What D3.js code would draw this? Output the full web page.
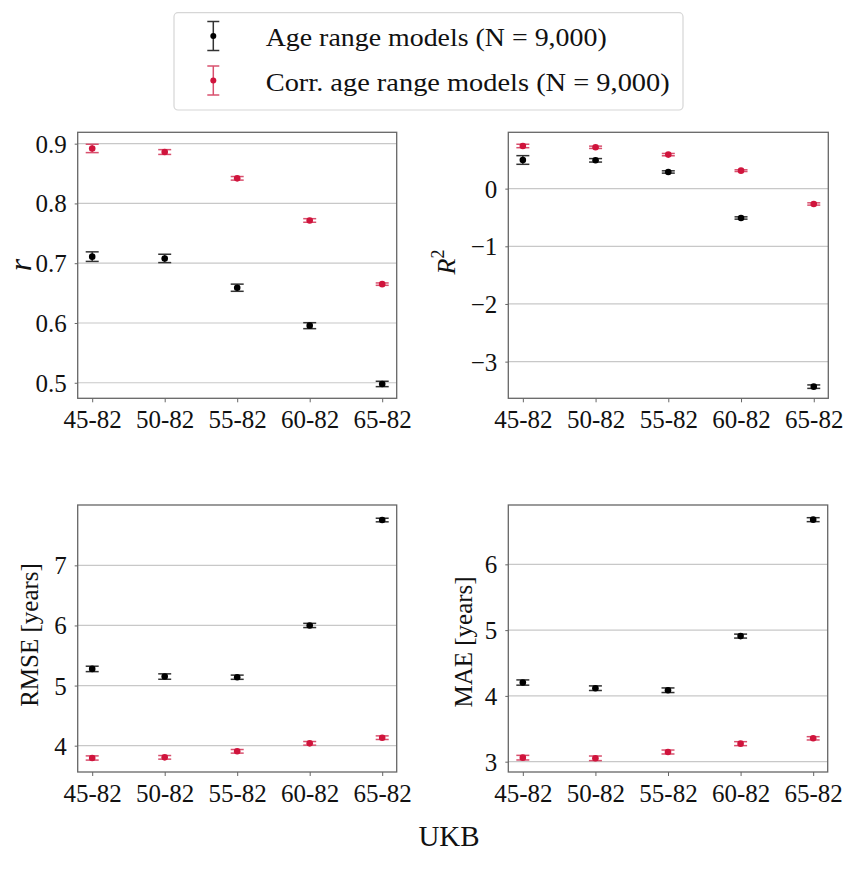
<!DOCTYPE html>
<html><head><meta charset="utf-8">
<script src="https://cdn.jsdelivr.net/npm/d3@7"></script>
<style>
html,body{margin:0;padding:0;background:#fff;}
svg text{font-family:"Liberation Serif","Times New Roman",serif;fill:#111;}
</style></head>
<body>
<svg id="chart" width="843" height="871"></svg>
<script>
// ---- data ----
const categories = ["45-82","50-82","55-82","60-82","65-82"];
const seriesNames = ["Age range models (N = 9,000)","Corr. age range models (N = 9,000)"];

const rAge = [0.711,0.708,0.659,0.5955,0.498];
const rAgeErr = [0.008,0.007,0.006,0.005,0.0045];
const rCorr = [0.892,0.886,0.842,0.7715,0.665];
const rCorrErr = [0.007,0.004,0.003,0.003,0.002];

const r2Age = [0.497,0.491,0.289,-0.509,-3.434];
const r2AgeErr = [0.075,0.03,0.02,0.02,0.03];
const r2Corr = [0.74,0.717,0.59,0.312,-0.266];
const r2CorrErr = [0.03,0.02,0.02,0.015,0.02];

const rmseAge = [5.277,5.15,5.139,6.0,7.754];
const rmseAgeErr = [0.045,0.045,0.035,0.035,0.03];
const rmseCorr = [3.795,3.806,3.906,4.039,4.133];
const rmseCorrErr = [0.035,0.03,0.03,0.03,0.03];

const maeAge = [4.203,4.117,4.086,4.909,6.679];
const maeAgeErr = [0.04,0.035,0.035,0.03,0.03];
const maeCorr = [3.061,3.051,3.147,3.274,3.355];
const maeCorrErr = [0.035,0.035,0.03,0.03,0.025];

const rTicks = [0.5,0.6,0.7,0.8,0.9];
const r2Ticks = [-3,-2,-1,0];
const rmseTicks = [4,5,6,7];
const maeTicks = [3,4,5,6];

const rDomain = [0.474,0.919];
const r2Domain = [-3.636,0.977];
const rmseDomain = [3.562,8.004];
const maeDomain = [2.843,6.902];

// ---- style ----
const BLACK = "#000000";
const RED = "#d0143c";
const svg = d3.select("#chart");

const panels = [
  {x0:77.7, x1:396.7, y0:132.3, y1:398.3, dom:rDomain, ticks:rTicks, fmt:d3.format(".1f"),
   a:rAge, ae:rAgeErr, c:rCorr, ce:rCorrErr, label:"r", lx:31, ly:265},
  {x0:508.3, x1:828.3, y0:132.3, y1:398.3, dom:r2Domain, ticks:r2Ticks, fmt:d=>d<0?"\u2212"+Math.abs(d):String(d),
   a:r2Age, ae:r2AgeErr, c:r2Corr, ce:r2CorrErr, label:"R2", lx:455, ly:262},
  {x0:77.7, x1:396.7, y0:505, y1:772, dom:rmseDomain, ticks:rmseTicks, fmt:d3.format("d"),
   a:rmseAge, ae:rmseAgeErr, c:rmseCorr, ce:rmseCorrErr, label:"RMSE [years]", lx:38, ly:635},
  {x0:508.3, x1:827.7, y0:505, y1:772, dom:maeDomain, ticks:maeTicks, fmt:d3.format("d"),
   a:maeAge, ae:maeAgeErr, c:maeCorr, ce:maeCorrErr, label:"MAE [years]", lx:471.5, ly:642}
];

panels.forEach(p => {
  const x = d3.scaleLinear().domain([-0.2, categories.length - 1 + 0.2]).range([p.x0, p.x1]);
  const y = d3.scaleLinear().domain(p.dom).range([p.y1, p.y0]);
  const g = svg.append("g");

  // gridlines
  g.selectAll("line.grid").data(p.ticks).join("line")
    .attr("x1", p.x0).attr("x2", p.x1)
    .attr("y1", d => y(d)).attr("y2", d => y(d))
    .attr("stroke", "#c8c8c8").attr("stroke-width", 1.2);

  // axes
  const yAxis = d3.axisLeft(y).tickValues(p.ticks).tickFormat(p.fmt).tickSize(3).tickPadding(8);
  const ya = g.append("g").attr("transform", `translate(${p.x0},0)`).call(yAxis);
  ya.attr("font-family", null);
  ya.select(".domain").remove();
  ya.selectAll(".tick line").attr("stroke", "#666");
  ya.selectAll(".tick text").attr("font-size", 25).attr("fill", "#111").attr("dy", "0.34em");

  const xAxis = d3.axisBottom(x).tickValues(d3.range(categories.length))
    .tickFormat(i => categories[i]).tickSize(4).tickPadding(8);
  const xa = g.append("g").attr("transform", `translate(0,${p.y1})`).call(xAxis);
  xa.attr("font-family", null);
  xa.select(".domain").remove();
  xa.selectAll(".tick line").attr("stroke", "#666");
  xa.selectAll(".tick text").attr("font-size", 25).attr("fill", "#111").attr("dy", "0.72em");

  // frame
  g.append("rect").attr("x", p.x0).attr("y", p.y0)
    .attr("width", p.x1 - p.x0).attr("height", p.y1 - p.y0)
    .attr("fill", "none").attr("stroke", "#666").attr("stroke-width", 1.3);

  // series
  const series = [
    {vals:p.a, errs:p.ae, color:BLACK, ecolor:"#333"},
    {vals:p.c, errs:p.ce, color:RED, ecolor:"#d8506e"}
  ];
  series.forEach(s => {
    const data = s.vals.map((v, i) => ({i, v, e:s.errs[i]}));
    const sg = g.append("g");
    sg.selectAll("line.v").data(data).join("line")
      .attr("x1", d => x(d.i)).attr("x2", d => x(d.i))
      .attr("y1", d => y(d.v - d.e)).attr("y2", d => y(d.v + d.e))
      .attr("stroke", s.ecolor).attr("stroke-width", 1.5);
    [-1, 1].forEach(sgn => {
      sg.selectAll("line.cap" + sgn).data(data).join("line")
        .attr("x1", d => x(d.i) - 6.5).attr("x2", d => x(d.i) + 6.5)
        .attr("y1", d => y(d.v + sgn * d.e)).attr("y2", d => y(d.v + sgn * d.e))
        .attr("stroke", s.ecolor).attr("stroke-width", 1.5);
    });
    sg.selectAll("circle").data(data).join("circle")
      .attr("cx", d => x(d.i)).attr("cy", d => y(d.v)).attr("r", 3.3)
      .attr("fill", s.color);
  });

  // y label
  const t = svg.append("text")
    .attr("transform", `translate(${p.lx},${p.ly}) rotate(-90)`)
    .attr("text-anchor", "middle");
  if (p.label === "r") {
    t.attr("font-size", 32).attr("font-style", "italic").text("r");
  } else if (p.label === "R2") {
    t.attr("font-size", 26);
    t.append("tspan").attr("font-style", "italic").text("R");
    t.append("tspan").attr("font-size", 18).attr("dy", -11).text("2");
  } else {
    t.attr("font-size", 25).text(p.label);
  }
});

// supxlabel
svg.append("text").attr("x", 449).attr("y", 846).attr("text-anchor", "middle")
  .attr("font-size", 29).text("UKB");

// legend
const lg = svg.append("g");
lg.append("rect").attr("x", 174).attr("y", 12.7).attr("width", 509).attr("height", 97.3)
  .attr("rx", 4).attr("fill", "#fff").attr("stroke", "#d6d6d6").attr("stroke-width", 1.2);
const legendItems = [
  {name:seriesNames[0], color:BLACK, ecolor:"#333", cy:36, ty:46, w:341},
  {name:seriesNames[1], color:RED, ecolor:"#d8506e", cy:80.5, ty:90.5, w:404}
];
legendItems.forEach(it => {
  const mx = 213.3;
  lg.append("line").attr("x1", mx).attr("x2", mx).attr("y1", it.cy - 14.5).attr("y2", it.cy + 14.5)
    .attr("stroke", it.ecolor).attr("stroke-width", 1.5);
  [-14.5, 14.5].forEach(o => lg.append("line").attr("x1", mx - 6).attr("x2", mx + 6)
    .attr("y1", it.cy + o).attr("y2", it.cy + o).attr("stroke", it.ecolor).attr("stroke-width", 1.5));
  lg.append("circle").attr("cx", mx).attr("cy", it.cy).attr("r", 3).attr("fill", it.color);
  lg.append("text").attr("x", 265.7).attr("y", it.ty).attr("font-size", 26)
    .attr("textLength", it.w).attr("lengthAdjust", "spacingAndGlyphs").text(it.name);
});
</script>
</body></html>
